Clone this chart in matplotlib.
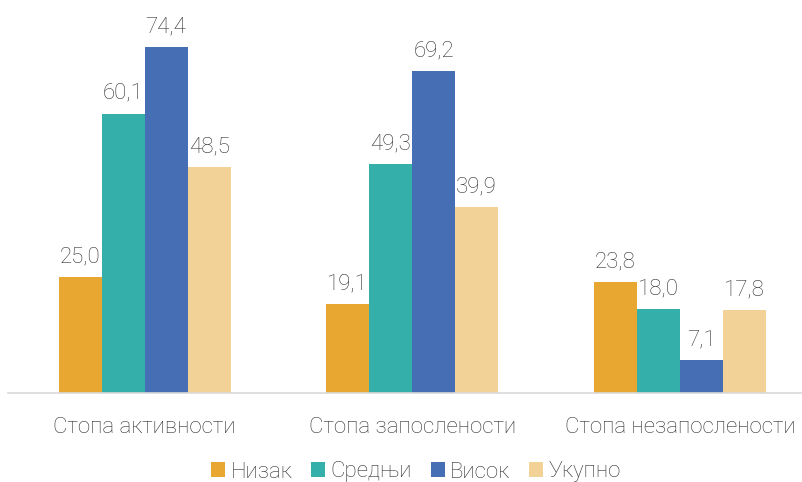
import matplotlib
matplotlib.use("Agg")
import matplotlib.pyplot as plt
import numpy as np

categories = ["Стопа активности", "Стопа запослености", "Стопа незапослености"]
series = ["Низак", "Средњи", "Висок", "Укупно"]
values_nizak = [25.0, 19.1, 23.8]
values_srednji = [60.1, 49.3, 18.0]
values_visok = [74.4, 69.2, 7.1]
values_ukupno = [48.5, 39.9, 17.8]
colors = ["#E8A731", "#34AFAA", "#466EB4", "#F2D296"]

plt.rcParams['font.family'] = ['Roboto', 'DejaVu Sans']
TXT = "#333333"
FS = 16

fig = plt.figure(figsize=(8.02, 4.82), dpi=100)
W, H = 802, 482
ax = fig.add_axes([8 / W, 1 - 393 / H, (802 - 8) / W, (393 - 21) / H])

x = np.arange(len(categories))
bw = 0.1606
all_vals = [values_nizak, values_srednji, values_visok, values_ukupno]
for i, (name, vals, c) in enumerate(zip(series, all_vals, colors)):
    pos = x + (i - 1.5) * bw
    bars = ax.bar(pos, vals, width=bw, color=c, label=name)
    for b, v in zip(bars, vals):
        ax.annotate(f"{v:.1f}".replace(".", ","), (b.get_x() + b.get_width() / 2, v),
                    xytext=(0, 7), textcoords="offset points", ha="center", va="bottom",
                    fontsize=FS, color=TXT, fontweight="light")

ax.set_xlim(-0.51, 2.456)
ax.set_ylim(0, 80)
for s in ["top", "right", "left"]:
    ax.spines[s].set_visible(False)
ax.spines["bottom"].set_color("#D9D9D9")
ax.spines["bottom"].set_linewidth(1.2)
ax.set_yticks([])
ax.set_xticks(x)
ax.set_xticklabels(categories, fontsize=FS, color=TXT, fontweight="light")
ax.tick_params(axis="x", length=0, pad=17)

leg = fig.legend(loc="center", bbox_to_anchor=(416 / W, 1 - 472 / H), ncol=4, frameon=False,
                 prop={"size": FS, "weight": "light"}, handlelength=0.62, handleheight=0.62,
                 handletextpad=0.25, columnspacing=0.85)
for t in leg.get_texts():
    t.set_color(TXT)

fig.savefig("out.png", dpi=100)
